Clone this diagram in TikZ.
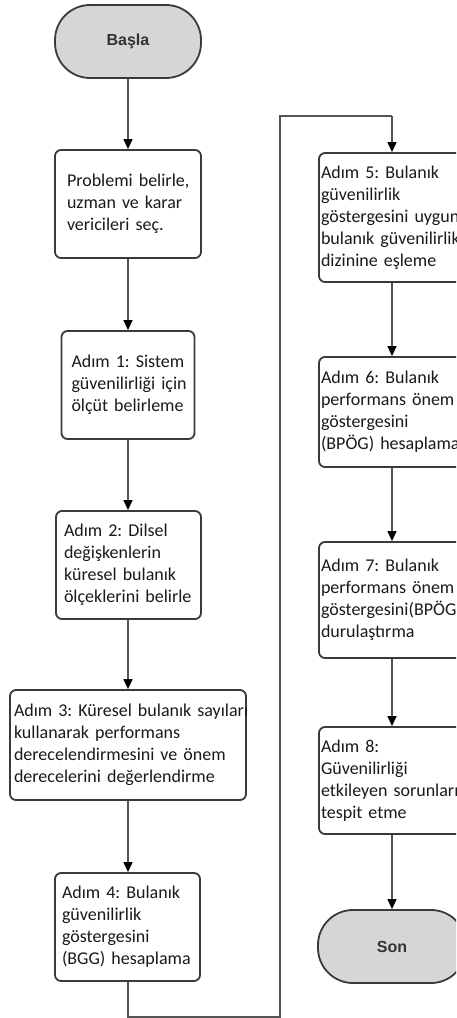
\documentclass[tikz,border=0pt]{standalone}
\usepackage{fontspec}
\setmainfont{Carlito}
\newfontfamily\termfont{Liberation Sans}
\usetikzlibrary{arrows.meta}
\definecolor{edgecol}{HTML}{3A3A3A}
\definecolor{linecol}{HTML}{555555}
\definecolor{termfill}{HTML}{D6D6D6}
\definecolor{termtext}{HTML}{333333}
\definecolor{txtcol}{HTML}{1A1A1A}
\newcommand{\tl}[1]{\mbox{#1}}
\tikzset{
  stepbox/.style={draw=edgecol, line width=1.8pt, rounded corners=6pt, fill=white,
    inner sep=0pt, align=left, text=txtcol,
    font=\frenchspacing\fontsize{18}{22}\selectfont},
  termbox/.style={draw=edgecol, line width=1.8pt, rounded corners=35pt, fill=termfill,
    inner sep=0pt, minimum width=146pt, minimum height=73pt, text=termtext,
    font=\termfont\bfseries\fontsize{16}{19}\selectfont},
  flow/.style={draw=linecol, line width=1.3pt, -{Triangle[length=10pt,width=9pt,color=black]}},
  plainline/.style={draw=linecol, line width=1.3pt}
}
\begin{document}
\begin{tikzpicture}[x=1pt,y=-1pt]
\useasboundingbox (0,0) rectangle (456,1018);
\clip (0,0) rectangle (456,1018);
% left column
\node[termbox] (start) at (128,41.5) {Başla};
\node[stepbox, minimum width=146pt, minimum height=108pt, text width=122pt] (b0) at (128,204)
  {\tl{Problemi belirle,}\\\tl{uzman ve karar}\\\tl{vericileri seç.}};
\node[stepbox, minimum width=133pt, minimum height=108pt, text width=113pt] (b1) at (128,385)
  {\tl{Adım 1: Sistem}\\\tl{güvenilirliği için}\\\tl{ölçüt belirleme}};
\node[stepbox, minimum width=145pt, minimum height=108pt, text width=129pt] (b2) at (128.5,565)
  {\tl{Adım 2: Dilsel}\\\tl{değişkenlerin}\\\tl{küresel bulanık}\\\tl{ölçeklerini belirle}};
\node[stepbox, minimum width=236pt, minimum height=110pt, text width=228pt] (b3) at (128,745)
  {\tl{Adım 3: Küresel bulanık sayıları}\\\tl{kullanarak performans}\\\tl{derecelendirmesini ve önem}\\\tl{derecelerini değerlendirme}};
\node[stepbox, minimum width=145pt, minimum height=108pt, text width=131pt] (b4) at (127.5,927)
  {\tl{Adım 4: Bulanık}\\\tl{güvenilirlik}\\\tl{göstergesini}\\\tl{(BGG) hesaplama}};
% right column
\node[stepbox, minimum width=146pt, minimum height=129pt, text width=142pt] (r5) at (392,217.5)
  {\tl{Adım 5: Bulanık}\\\tl{güvenilirlik}\\\tl{göstergesini uygun}\\\tl{bulanık güvenilirlik}\\\tl{dizinine eşleme}};
\node[stepbox, minimum width=146pt, minimum height=110pt, text width=142pt] (r6) at (392,412)
  {\tl{Adım 6: Bulanık}\\\tl{performans önem}\\\tl{göstergesini}\\\tl{(BPÖG) hesaplama}};
\node[stepbox, minimum width=146pt, minimum height=116pt, text width=142pt] (r7) at (392,600)
  {\tl{Adım 7: Bulanık}\\\tl{performans önem}\\\tl{göstergesini(BPÖG)}\\\tl{durulaştırma}};
\node[stepbox, minimum width=146pt, minimum height=107pt, text width=142pt] (r8) at (392,780.5)
  {\tl{Adım 8:}\\\tl{Güvenilirliği}\\\tl{etkileyen sorunları}\\\tl{tespit etme}};
\node[termbox, minimum width=148pt] (son) at (392,946.5) {Son};
% connectors
\draw[flow] (start) -- (b0);
\draw[flow] (b0) -- (b1);
\draw[flow] (b1) -- (b2.north -| b1.south);
\draw[flow] (b2.south -| b1.south) -- (b3.north -| b1.south);
\draw[flow] (b3) -- (b4.north -| b3.south);
\coordinate (c1) at (128,1017);
\coordinate (c2) at (280,1017);
\coordinate (c3) at (280,116);
\coordinate (c4) at (392,116);
\draw[plainline] (b4.south -| c1) -- (c1) -- (c2) -- (c3) -- (c4);
\draw[flow] (c4) -- (r5.north);
\draw[flow] (r5) -- (r6);
\draw[flow] (r6) -- (r7);
\draw[flow] (r7) -- (r8);
\draw[flow] (r8) -- (son);
\end{tikzpicture}
\end{document}
